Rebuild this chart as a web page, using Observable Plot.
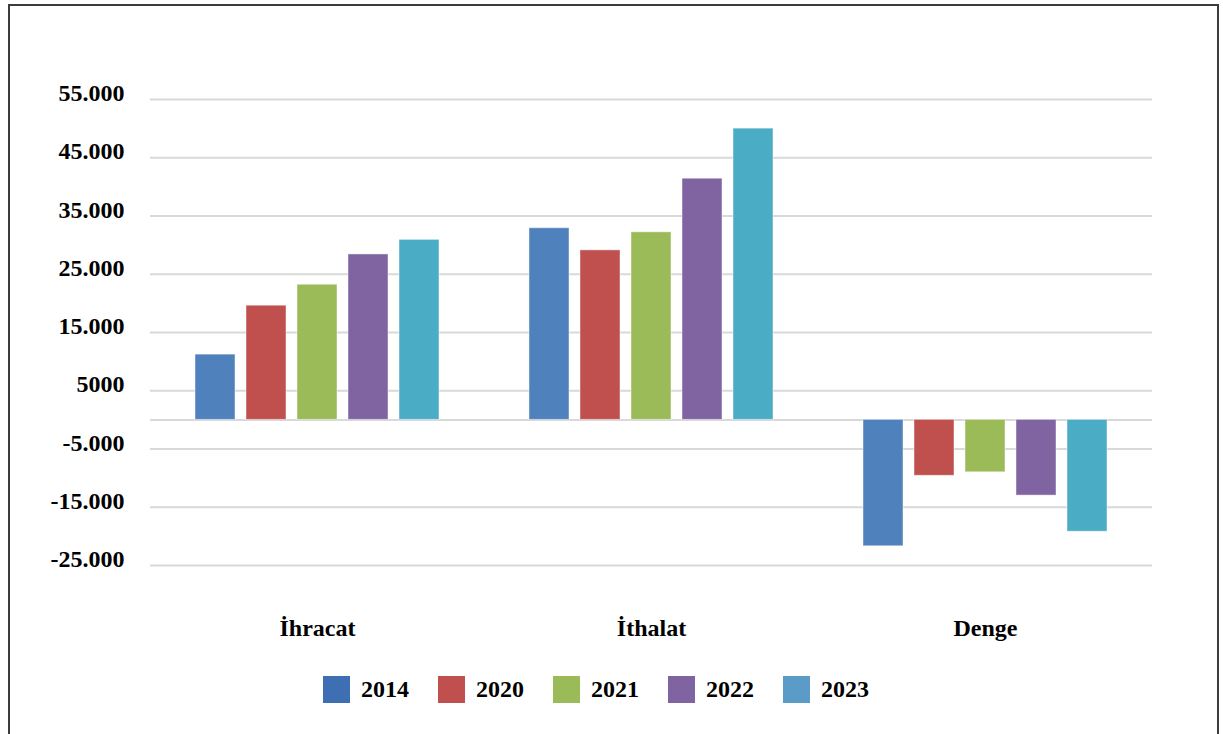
<!DOCTYPE html>
<html>
<head>
<meta charset="utf-8">
<script src="https://cdn.jsdelivr.net/npm/d3@7"></script>
<script src="https://cdn.jsdelivr.net/npm/@observablehq/plot@0.6"></script>
<style>
  html, body { margin: 0; padding: 0; background: #fff; overflow: hidden; }
  body { width: 1223px; height: 734px; position: relative; font-family: "Liberation Serif", "Times New Roman", serif; }
  #frame { position: absolute; left: 8px; top: 4px; width: 1211px; height: 800px; border: 2px solid #3c3c3c; box-sizing: border-box; pointer-events: none; }
  #chart { position: absolute; left: 0; top: 0; }
  #legend { position: absolute; left: 323px; top: 676px; display: flex; align-items: center; }
  .item { display: flex; align-items: center; margin-right: 29px; }
  .sw { width: 27px; height: 27px; margin-right: 11px; }
  .lab { font-size: 24px; font-weight: bold; color: #000; line-height: 27px; }
</style>
</head>
<body>
<div id="chart"></div>
<div id="legend"></div>
<div id="frame"></div>
<script>
const categories = ["İhracat", "İthalat", "Denge"];
const years = ["2014", "2020", "2021", "2022", "2023"];
const ihracat = [11200, 19600, 23200, 28400, 30900];
const ithalat = [32900, 29100, 32200, 41400, 50000];
const denge = [-21700, -9600, -9000, -13000, -19200];
const barColors = ["#4F81BD", "#C0504D", "#9BBB59", "#8064A2", "#4BACC6"];
const legendColors = ["#3E6FB3", "#C0504D", "#9BBB59", "#8064A2", "#5B9BC8"];
const gridValues = [55000, 45000, 35000, 25000, 15000, 5000, 0, -5000, -15000, -25000];
const tickValues = [55000, 45000, 35000, 25000, 15000, 5000, -5000, -15000, -25000];
const tickLabels = ["55.000", "45.000", "35.000", "25.000", "15.000", "5000", "-5.000", "-15.000", "-25.000"];

const series = [ihracat, ithalat, denge];
const rows = categories.flatMap((c, i) => years.map((y, j) => ({category: c, year: y, value: series[i][j]})));

const chart = Plot.plot({
  width: 1223,
  height: 660,
  marginTop: 99,
  marginBottom: 95,
  marginLeft: 149,
  marginRight: 70,
  style: {fontFamily: "'Liberation Serif', 'Times New Roman', serif", background: "transparent", color: "#000"},
  fx: {domain: categories, padding: 0},
  x: {domain: years, paddingInner: 0.22, paddingOuter: 0.866, axis: null},
  y: {domain: [-25000, 55000]},
  color: {domain: years, range: barColors},
  marks: [
    Plot.ruleY(gridValues, {stroke: "#d9d9d9", strokeWidth: 2}),
    Plot.barY(rows, {fx: "category", x: "year", y: "value", fill: "year", stroke: "#ffffff", strokeOpacity: 0.45, strokeWidth: 1}),
    Plot.axisY({ticks: tickValues, tickFormat: v => tickLabels[tickValues.indexOf(v)], tickSize: 0, tickPadding: 26, fontSize: 24, fontWeight: "bold", label: null, dy: -6}),
    Plot.axisFx({anchor: "bottom", tickSize: 0, tickPadding: 53, fontSize: 24, fontWeight: "bold", label: null})
  ]
});
document.getElementById("chart").appendChild(chart);

const legend = document.getElementById("legend");
years.forEach((y, i) => {
  const item = document.createElement("div");
  item.className = "item";
  const sw = document.createElement("div");
  sw.className = "sw";
  sw.style.background = legendColors[i];
  const lab = document.createElement("span");
  lab.className = "lab";
  lab.textContent = y;
  item.appendChild(sw);
  item.appendChild(lab);
  legend.appendChild(item);
});
</script>
</body>
</html>
